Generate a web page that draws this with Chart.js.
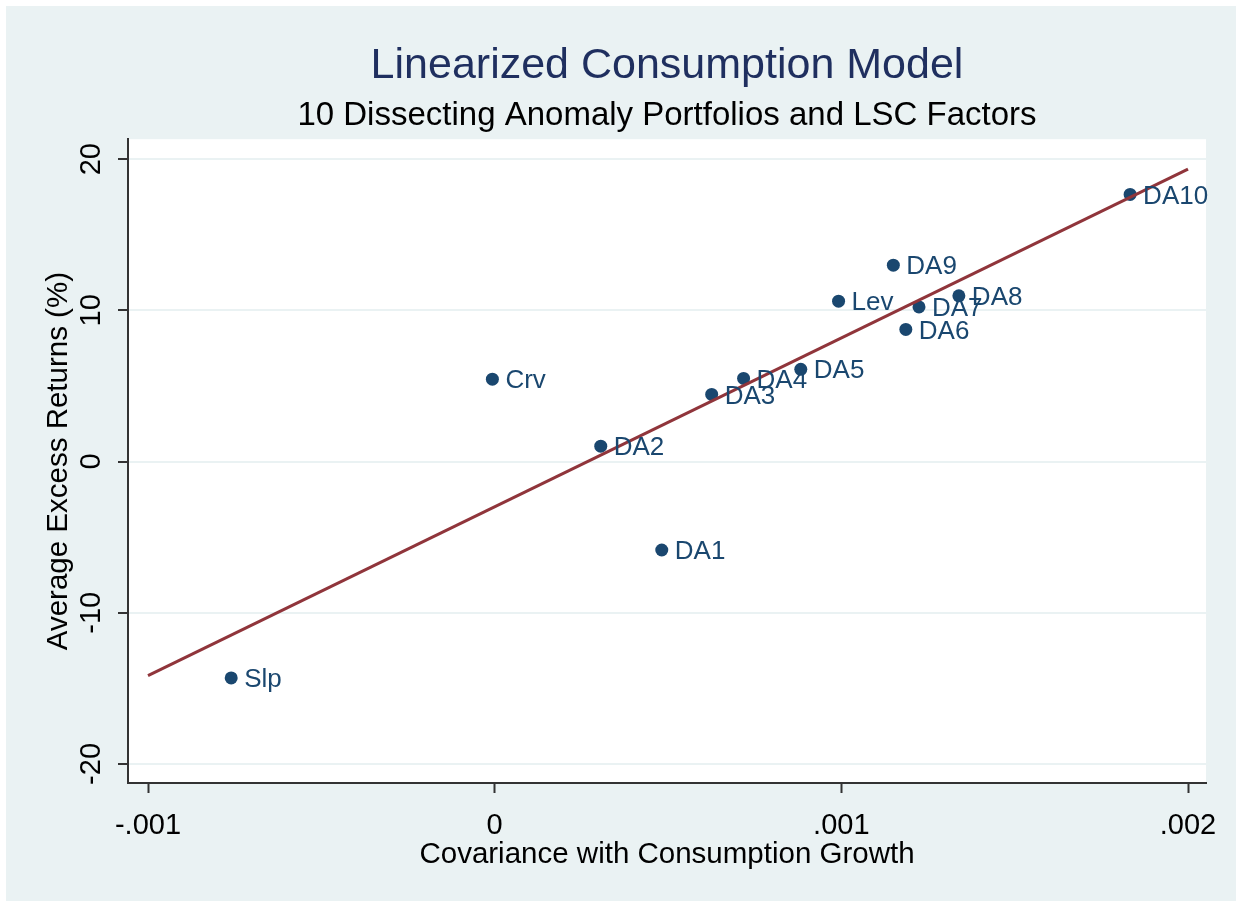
<!DOCTYPE html>
<html>
<head>
<meta charset="utf-8">
<script src="https://cdn.jsdelivr.net/npm/chart.js@4.4.1/dist/chart.umd.min.js"></script>
<style>
  html, body { margin: 0; padding: 0; background: #ffffff; }
  #wrap { position: absolute; left: 6px; top: 6px; width: 1230px; height: 895px; }
</style>
</head>
<body>
<div id="wrap"><canvas id="chart"></canvas></div>
<script>
// portfolios / factors
const names = ['Slp', 'Crv', 'DA2', 'DA1', 'DA3', 'DA4', 'DA5', 'Lev', 'DA9', 'DA7', 'DA6', 'DA8', 'DA10'];
const covGrowth = [-0.00076, -0.0000066, 0.000306, 0.000482, 0.000626, 0.000718, 0.000883, 0.000992, 0.00115, 0.001224, 0.001186, 0.001339, 0.001833];
const excessRet = [-14.31, 5.45, 1.02, -5.85, 4.44, 5.50, 6.10, 10.61, 12.99, 10.23, 8.74, 10.96, 17.67];

// fitted line end points
const fitX = [-0.001, 0.002];
const fitY = [-14.16, 19.34];

// axis ticks
const xTickVals = [-0.001, 0, 0.001, 0.002];
const xTickLabels = ['-.001', '0', '.001', '.002'];
const yTickVals = [-20, -10, 0, 10, 20];
const yTickLabels = ['-20', '-10', '0', '10', '20'];

const FONT = "'Liberation Sans', Arial, sans-serif";
const NAVY = '#1a476f';
const BG = '#eaf2f3';

// Stata-ish backgrounds: light outer, white plot region
const bgPlugin = {
  id: 'bg',
  beforeDraw(chart) {
    const {ctx, chartArea: a} = chart;
    ctx.save();
    ctx.fillStyle = BG;
    ctx.fillRect(0, 0, chart.width, chart.height);
    ctx.fillStyle = '#ffffff';
    ctx.fillRect(a.left, a.top, a.right - a.left, a.bottom - a.top);
    ctx.restore();
  }
};

// marker labels to the right of each point
const labelPlugin = {
  id: 'pointLabels',
  afterDatasetsDraw(chart) {
    const meta = chart.getDatasetMeta(1);
    const ctx = chart.ctx;
    ctx.save();
    ctx.font = '26px ' + FONT;
    ctx.fillStyle = NAVY;
    ctx.textAlign = 'left';
    ctx.textBaseline = 'middle';
    meta.data.forEach((pt, i) => {
      ctx.fillText(names[i], pt.x + 13, pt.y + 2);
    });
    ctx.restore();
  }
};

new Chart(document.getElementById('chart'), {
  type: 'scatter',
  data: {
    datasets: [
      {
        type: 'line',
        label: 'fit',
        data: fitX.map((x, i) => ({x: x, y: fitY[i]})),
        borderColor: '#90353b',
        borderWidth: 3,
        pointRadius: 0,
        fill: false,
        tension: 0
      },
      {
        label: 'portfolios',
        data: covGrowth.map((x, i) => ({x: x, y: excessRet[i]})),
        backgroundColor: NAVY,
        borderColor: NAVY,
        pointRadius: 6.5,
        pointBorderWidth: 0
      }
    ]
  },
  options: {
    animation: false,
    responsive: true,
    maintainAspectRatio: false,
    layout: { padding: { left: 0, right: 30, top: 0, bottom: 0 } },
    plugins: {
      legend: { display: false },
      tooltip: { enabled: false },
      title: {
        display: true,
        fullSize: false,
        text: 'Linearized Consumption Model',
        color: '#1f2f5f',
        font: { family: FONT, size: 43, weight: 'normal' },
        padding: { top: 34, bottom: 0 }
      },
      subtitle: {
        display: true,
        fullSize: false,
        text: '10 Dissecting Anomaly Portfolios and LSC Factors',
        color: '#000000',
        font: { family: FONT, size: 33, weight: 'normal' },
        padding: { top: 5, bottom: 3 }
      }
    },
    scales: {
      x: {
        type: 'linear',
        min: -0.0010577,
        max: 0.0020519,
        afterBuildTicks: s => { s.ticks = xTickVals.map(v => ({value: v})); },
        afterFit: s => { s.height = 118; },
        ticks: {
          color: '#000',
          font: { family: FONT, size: 29 },
          padding: 16,
          maxRotation: 0,
          callback: (v, i) => xTickLabels[i]
        },
        grid: { drawOnChartArea: false, drawTicks: true, tickLength: 10, tickColor: '#333', tickWidth: 2 },
        border: { display: true, color: '#333', width: 2 },
        title: {
          display: true,
          text: 'Covariance with Consumption Growth',
          color: '#000',
          font: { family: FONT, size: 29.5 },
          padding: { top: 0, bottom: 28 }
        }
      },
      y: {
        type: 'linear',
        min: -21.26,
        max: 21.32,
        afterBuildTicks: s => { s.ticks = yTickVals.map(v => ({value: v})); },
        afterFit: s => { s.width = 122; },
        ticks: {
          color: '#000',
          font: { family: FONT, size: 29 },
          padding: 5,
          minRotation: 90,
          maxRotation: 90,
          crossAlign: 'center',
          callback: (v, i) => yTickLabels[i]
        },
        grid: { color: BG, lineWidth: 2, drawTicks: true, tickLength: 10, tickColor: '#333', tickWidth: 2 },
        border: { display: true, color: '#333', width: 2 },
        title: {
          display: true,
          text: 'Average Excess Returns (%)',
          color: '#000',
          font: { family: FONT, size: 29.5 },
          padding: { top: 35, bottom: 0 }
        }
      }
    }
  },
  plugins: [bgPlugin, labelPlugin]
});
</script>
</body>
</html>
